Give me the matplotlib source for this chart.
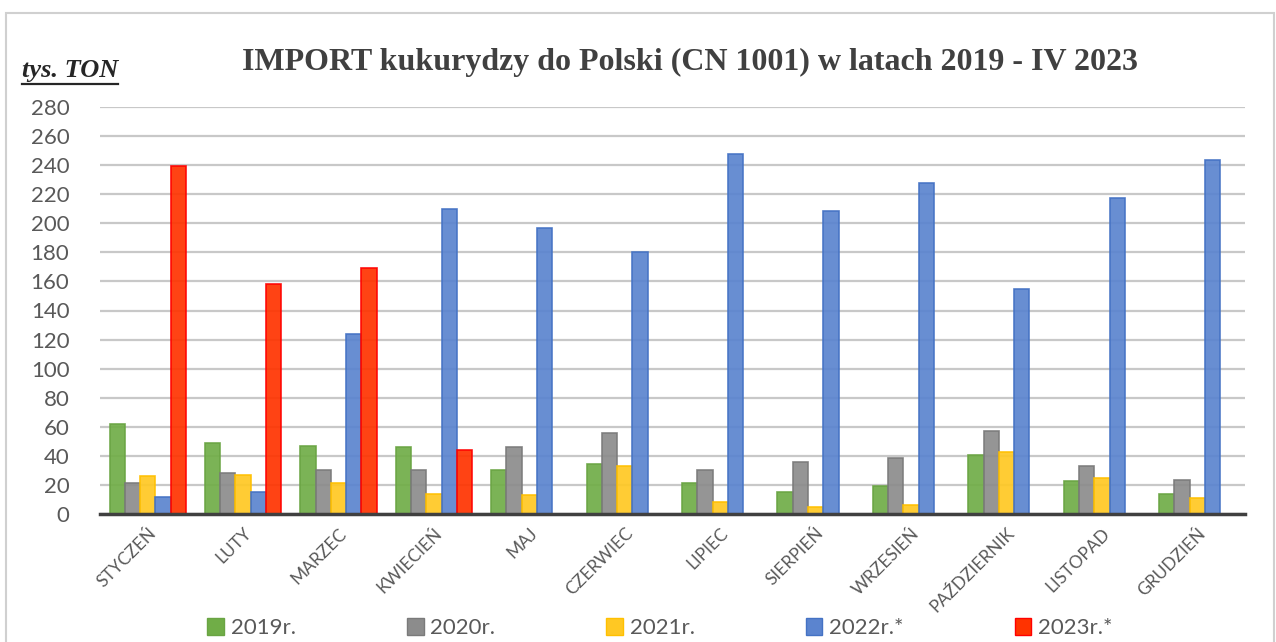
import matplotlib.pyplot as plt
import numpy as np
from matplotlib.lines import Line2D
from matplotlib.patches import Rectangle, Patch

# Data (tys. ton)
months = ["STYCZEŃ", "LUTY", "MARZEC", "KWIECIEŃ", "MAJ", "CZERWIEC",
          "LIPIEC", "SIERPIEŃ", "WRZESIEŃ", "PAŹDZIERNIK", "LISTOPAD", "GRUDZIEŃ"]
y2019 = [62, 49, 47, 46, 30.5, 34.5, 21, 15, 19.5, 40.5, 23, 14]
y2020 = [21, 28, 30, 30, 46, 56, 30.5, 36, 38.5, 57, 33, 23.5]
y2021 = [26, 27, 21, 14, 13, 33, 8.5, 4.5, 6, 42.5, 25, 11]
y2022 = [12, 15, 124, 209.5, 196.5, 180.5, 247.5, 208.5, 227.5, 154.5, 217.5, 243.5]
y2023 = [239.5, 158.5, 169.5, 44, np.nan, np.nan, np.nan, np.nan, np.nan, np.nan, np.nan, np.nan]
series_names = ["2019r.", "2020r.", "2021r.", "2022r.*", "2023r.*"]

faces = ["#70AD47", "#8C8C8C", "#FFC823", "#5B84CF", "#FF3300"]
edges = ["#6AA443", "#7A7A7A", "#FFC000", "#4472C4", "#FF0000"]

txt = "#595959"
fig = plt.figure(figsize=(12.76, 6.42), dpi=100)
ax = fig.add_axes([100/1276, 1 - 514/642, 1145/1276, 407/642])

x = np.arange(len(months))
w = 0.16
for i, vals in enumerate([y2019, y2020, y2021, y2022, y2023]):
    ax.bar(x + (i - 2) * w, vals, width=w, color=faces[i], edgecolor=edges[i],
           linewidth=1.2, alpha=0.92, zorder=2)

ax.set_xlim(-0.5, 11.5)
ax.set_ylim(0, 280)
ax.set_yticks(np.arange(0, 281, 20))
ax.yaxis.grid(True, color="#C8C8C8", linewidth=1.6, zorder=0)
ax.set_axisbelow(True)
for s in ["top", "right", "left"]:
    ax.spines[s].set_visible(False)
ax.spines["bottom"].set_color("#404040")
ax.spines["bottom"].set_linewidth(2.5)
ax.spines["bottom"].set_zorder(3)
ax.tick_params(axis="both", length=0)
ax.tick_params(axis="y", labelsize=16, labelcolor=txt, pad=22)
for lbl in ax.get_yticklabels():
    lbl.set_family("Lato")
ax.set_xticks(x)
ax.set_xticklabels(months, rotation=45, ha="right", va="top", rotation_mode="anchor",
                   fontsize=12.5, color=txt, family="Lato")
ax.tick_params(axis="x", pad=8)

fig.text(690/1276, 1 - 62/642, "IMPORT kukurydzy do Polski (CN 1001) w latach 2019 - IV 2023",
         ha="center", va="center", family="Liberation Serif", fontweight="bold",
         fontsize=23, color="#404040")

ylab = fig.text(22/1276, 1 - 71/642, "tys. TON", ha="left", va="center",
                family="Liberation Serif", fontweight="bold", fontstyle="italic",
                fontsize=19, color="#262626")
fig.canvas.draw()
bb = ylab.get_window_extent().transformed(fig.transFigure.inverted())
fig.add_artist(Line2D([bb.x0, bb.x1], [bb.y0 - 0.003, bb.y0 - 0.003],
                      transform=fig.transFigure, color="#262626", linewidth=1.6))

# chart border
fig.add_artist(Rectangle((6/1276, -0.05), 1268/1276, 1.05 - 13/642, transform=fig.transFigure,
                         fill=False, edgecolor="#D0D0D0", linewidth=1.5))

handles = [Patch(facecolor=faces[i], edgecolor=edges[i]) for i in range(5)]
leg = fig.legend(handles, series_names, loc="center", bbox_to_anchor=(660/1276, 1 - 628/642),
                 ncol=5, frameon=True, fontsize=16, columnspacing=5.0, handlelength=0.75,
                 handleheight=0.8, handletextpad=0.3, borderpad=0.2)
leg.get_frame().set_facecolor("white")
leg.get_frame().set_edgecolor("none")
leg.get_frame().set_alpha(0.6)
for t in leg.get_texts():
    t.set_color(txt)
    t.set_family("Lato")

fig.savefig("out.png", dpi=100)
